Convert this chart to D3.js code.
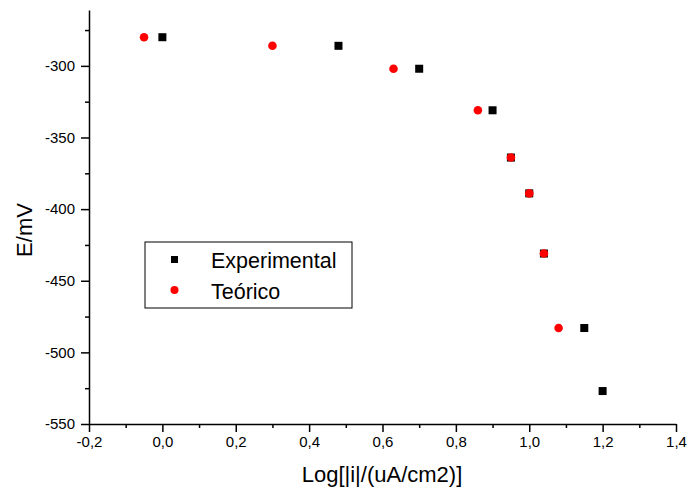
<!DOCTYPE html>
<html>
<head>
<meta charset="utf-8">
<script src="https://cdn.jsdelivr.net/npm/d3@7"></script>
<style>
  body { margin: 0; background: #fff; }
  svg { font-family: "Liberation Sans", Arial, sans-serif; }
</style>
</head>
<body>
<div id="container"></div>
<script>
/* DATA */
const expX = [0.00, 0.48, 0.70, 0.90, 0.95, 1.00, 1.04, 1.15, 1.20];
const expY = [-280, -286, -302, -331, -364, -389, -431, -483, -527];
const teoX = [-0.05, 0.30, 0.63, 0.86, 0.95, 1.00, 1.04, 1.08];
const teoY = [-280, -286, -302, -331, -364, -389, -431, -483];
const xTicks = [-0.2, 0, 0.2, 0.4, 0.6, 0.8, 1.0, 1.2, 1.4];
const yTicks = [-550, -500, -450, -400, -350, -300];
const seriesNames = ["Experimental", "Teórico"];

const width = 690, height = 492,
  margin = {top: 10, right: 14, bottom: 68, left: 89};

const svg = d3.select("#container").append("svg")
  .attr("width", width)
  .attr("height", height);

// SCALES
const xScale = d3.scaleLinear()
  .domain([-0.2, 1.4])
  .range([margin.left, width - margin.right]);

const yScale = d3.scaleLinear()
  .domain([-550, -261])
  .range([height - margin.bottom, margin.top]);

const fmt = d => d3.format(".1f")(d).replace(".", ",").replace("−", "-");

// minor ticks first
const xMinor = d3.range(-0.1, 1.4, 0.2);
const yMinor = d3.range(-525, -261, 50);

svg.append("g")
  .attr("transform", `translate(0,${height - margin.bottom})`)
  .call(d3.axisBottom(xScale).tickValues(xMinor).tickSize(4).tickFormat(""))
  .call(g => g.select(".domain").remove());

svg.append("g")
  .attr("transform", `translate(${margin.left},0)`)
  .call(d3.axisLeft(yScale).tickValues(yMinor).tickSize(4).tickFormat(""))
  .call(g => g.select(".domain").remove());

// main axes
svg.append("g")
  .attr("transform", `translate(0,${height - margin.bottom})`)
  .call(d3.axisBottom(xScale).tickValues(xTicks).tickSize(8).tickSizeOuter(0).tickFormat(fmt).tickPadding(4));

svg.append("g")
  .attr("transform", `translate(${margin.left},0)`)
  .call(d3.axisLeft(yScale).tickValues(yTicks).tickSize(8).tickSizeOuter(0).tickFormat(d => String(d)).tickPadding(6));

svg.selectAll(".domain, .tick line").attr("stroke", "#000").attr("stroke-width", 1.5);
svg.selectAll(".tick text")
  .attr("font-size", 15)
  .attr("font-family", "Liberation Sans, Arial, sans-serif")
  .attr("fill", "#000");

// axis titles
svg.append("text")
  .attr("x", 382)
  .attr("y", 482)
  .attr("text-anchor", "middle")
  .attr("font-size", 22)
  .text("Log[|i|/(uA/cm2)]");

svg.append("text")
  .attr("transform", "translate(32,230) rotate(-90)")
  .attr("text-anchor", "middle")
  .attr("font-size", 22)
  .text("E/mV");

// POINTS
const expData = expX.map((x, i) => ({x: x, y: expY[i]}));
const teoData = teoX.map((x, i) => ({x: x, y: teoY[i]}));

svg.selectAll("rect.exp")
  .data(expData)
  .join("rect")
  .attr("class", "exp")
  .attr("x", d => xScale(d.x) - 4)
  .attr("y", d => yScale(d.y) - 4)
  .attr("width", 8)
  .attr("height", 8)
  .attr("fill", "#000");

svg.selectAll("circle.teo")
  .data(teoData)
  .join("circle")
  .attr("class", "teo")
  .attr("cx", d => xScale(d.x))
  .attr("cy", d => yScale(d.y))
  .attr("r", 4.3)
  .attr("fill", "#ff0000");

// LEGEND
const legend = svg.append("g").attr("transform", "translate(145,242)");
legend.append("rect")
  .attr("width", 207).attr("height", 66)
  .attr("fill", "#fff").attr("stroke", "#000").attr("stroke-width", 1);
legend.append("rect")
  .attr("x", 26).attr("y", 14).attr("width", 7).attr("height", 7).attr("fill", "#000");
legend.append("circle")
  .attr("cx", 29.5).attr("cy", 48).attr("r", 4).attr("fill", "#ff0000");
legend.selectAll("text.lg")
  .data(seriesNames)
  .join("text")
  .attr("class", "lg")
  .attr("x", 66)
  .attr("y", (d, i) => 26 + i * 30.5)
  .attr("font-size", 21.5)
  .text(d => d);
</script>
</body>
</html>
